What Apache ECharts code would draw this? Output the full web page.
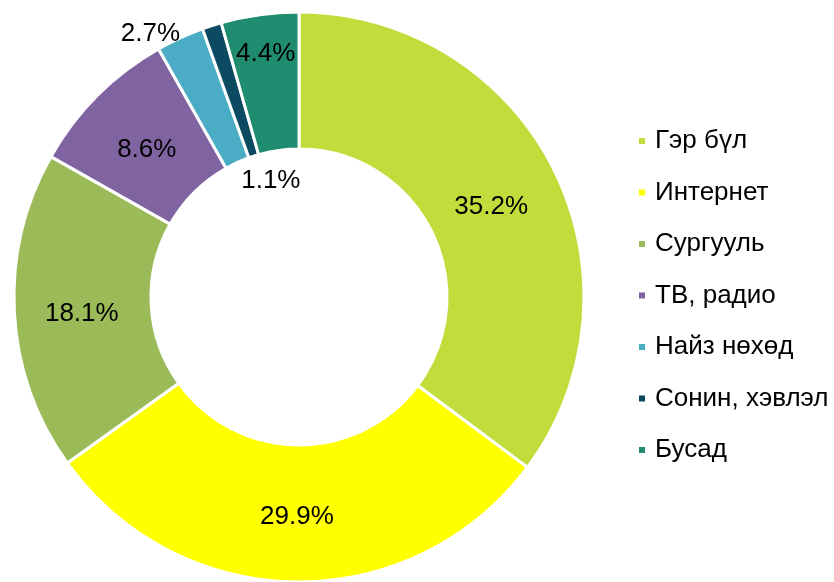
<!DOCTYPE html>
<html>
<head>
<meta charset="utf-8">
<script src="https://cdn.jsdelivr.net/npm/echarts@6/dist/echarts.min.js"></script>
<style>
  html, body { margin: 0; padding: 0; background: #fff; }
  #chart { width: 834px; height: 582px; }
</style>
</head>
<body>
<div id="chart"></div>
<script>
const categories = ['Гэр бүл', 'Интернет', 'Сургууль', 'ТВ, радио', 'Найз нөхөд', 'Сонин, хэвлэл', 'Бусад'];
const shares = [35.2, 29.9, 18.1, 8.6, 2.7, 1.1, 4.4];
const colors = ['#c1dd3b', '#ffff00', '#9bbb59', '#8064a2', '#4bacc6', '#0b4a60', '#1f8b6f'];

// nudge labels to where the original puts them; small slices go off the ring
const labelShift = {
  0: { dx: -4, dy: 8 },
  2: { dx: 2, dy: 5 },
  3: { dx: 3, dy: 8 },
  4: { dx: -57, dy: -64 },
  5: { dx: 39, dy: 93 },
  6: { dx: -3, dy: -26 }
};

const chart = echarts.init(document.getElementById('chart'));

const option = {
  animation: false,
  color: colors,
  textStyle: { fontFamily: 'Liberation Sans, Arial, sans-serif' },
  legend: {
    orient: 'vertical',
    left: 637,
    top: 128,
    padding: 0,
    itemWidth: 8,
    itemHeight: 8,
    itemGap: 25.5,
    icon: 'rect',
    textStyle: {
      fontSize: 26,
      lineHeight: 26,
      color: '#000',
      padding: [0, 0, 0, 4]
    },
    data: categories
  },
  series: [
    {
      type: 'pie',
      center: [299, 297],
      radius: [148, 285],
      startAngle: 90,
      clockwise: true,
      avoidLabelOverlap: false,
      itemStyle: { borderColor: '#fff', borderWidth: 3 },
      label: {
        show: true,
        position: 'inside',
        fontSize: 26,
        color: '#000',
        formatter: (p) => p.value.toFixed(1) + '%'
      },
      labelLine: { show: false },
      labelLayout: (params) => labelShift[params.dataIndex] || {},
      emphasis: { disabled: true },
      data: categories.map((name, i) => ({ name: name, value: shares[i] }))
    }
  ]
};

chart.setOption(option);
</script>
</body>
</html>
